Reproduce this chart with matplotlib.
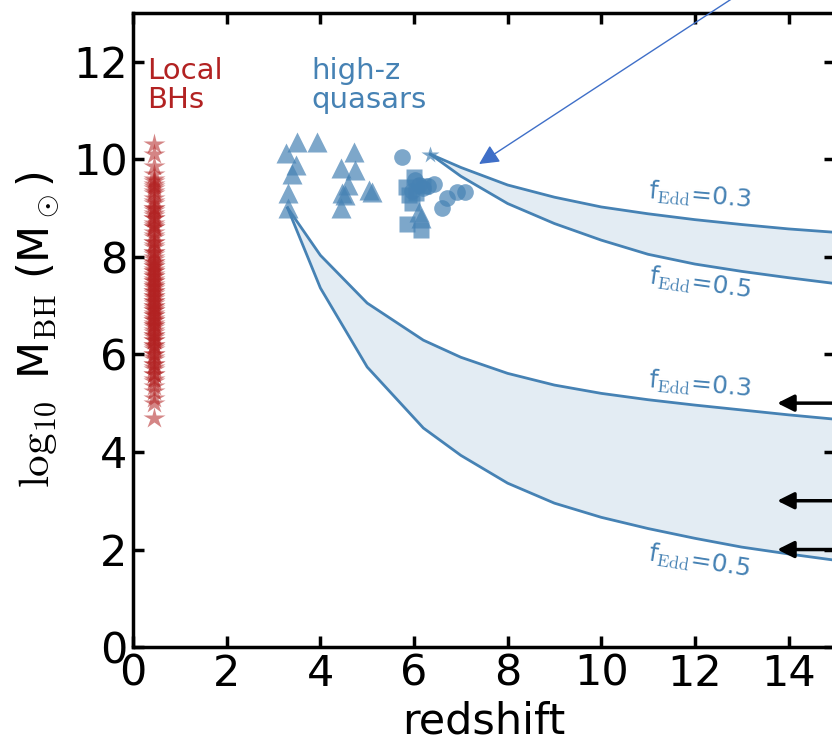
import matplotlib
matplotlib.use('Agg')
import matplotlib.pyplot as plt
import numpy as np

plt.rcParams['mathtext.fontset'] = 'cm'
plt.rcParams['mathtext.rm'] = 'serif'

# local black holes (all at z ~ 0.45)
local_z = 0.45
local_logm = [10.3, 10.1, 9.85, 9.7, 9.6, 9.55, 9.5, 9.45, 9.4, 9.35, 9.3, 9.2,
              9.15, 9.1, 9.0, 8.95, 8.9, 8.85, 8.8, 8.7, 8.65, 8.6, 8.5, 8.45,
              8.4, 8.3, 8.25, 8.2, 8.1, 8.05, 8.0, 7.95, 7.9, 7.85, 7.8, 7.75,
              7.7, 7.65, 7.6, 7.55, 7.5, 7.45, 7.4, 7.35, 7.3, 7.25, 7.2, 7.15,
              7.1, 7.05, 7.0, 6.95, 6.9, 6.85, 6.8, 6.75, 6.7, 6.65, 6.6, 6.55,
              6.5, 6.45, 6.4, 6.35, 6.3, 6.2, 6.15, 6.1, 6.0, 5.95, 5.9, 5.8,
              5.75, 5.7, 5.6, 5.5, 5.45, 5.35, 5.25, 5.1, 5.0, 4.7,
              7.0, 7.2, 6.9, 7.6, 6.6, 7.8, 8.3, 6.3, 7.4, 6.8, 8.6, 9.0, 5.8,
              6.4, 6.7, 7.1, 7.3, 7.5, 7.7, 7.9, 8.1, 6.2, 6.0, 5.6, 8.8]

# high-z quasars, by marker
tri_z = [3.5, 3.93, 3.27, 3.47, 3.4, 3.31, 3.31, 4.71, 4.43, 4.75, 4.59, 4.47,
         4.53, 4.45, 5.03, 5.11, 6.1, 6.15]
tri_m = [10.35, 10.35, 10.13, 9.88, 9.7, 9.3, 9.0, 10.15, 9.81, 9.77, 9.47, 9.3,
         9.26, 9.0, 9.36, 9.33, 8.92, 8.8]
circ_z = [5.75, 6.92, 7.1, 6.71, 6.6, 6.42, 6.1, 6.03, 6.2, 6.3, 5.95]
circ_m = [10.05, 9.33, 9.33, 9.2, 9.0, 9.5, 9.47, 9.57, 9.4, 9.45, 9.35]
sq_z = [5.85, 6.15, 6.0, 5.82, 5.89, 5.96, 6.05, 6.2]
sq_m = [8.68, 8.55, 9.64, 9.43, 9.26, 9.1, 9.3, 9.45]
star_z = [6.35]
star_m = [10.08]

# growth tracks
up_z = [6.35, 7, 8, 9, 10, 11, 12, 13, 14, 15]
up_f03 = [10.1, 9.83, 9.47, 9.22, 9.02, 8.88, 8.76, 8.66, 8.57, 8.5]
up_f05 = [10.1, 9.65, 9.09, 8.68, 8.34, 8.05, 7.85, 7.7, 7.57, 7.45]
lo_z = [3.3, 4, 5, 6.2, 7, 8, 9, 10, 11, 12, 13, 14, 15]
lo_f03 = [9.0, 8.03, 7.05, 6.29, 5.94, 5.61, 5.37, 5.2, 5.07, 4.96, 4.86, 4.76, 4.67]
lo_f05 = [9.0, 7.36, 5.74, 4.49, 3.93, 3.36, 2.95, 2.66, 2.43, 2.23, 2.05, 1.91, 1.78]

# arrows at right edge
arrow_m = [5, 3, 2]

red = '#B22222'
blue = '#4682B4'

fig = plt.figure(figsize=(8.32, 7.49), dpi=100)
ax = fig.add_axes([0.160, 0.136, 0.844, 0.847])

ax.plot([local_z] * len(local_logm), local_logm, '*', color=red, alpha=0.55,
        ms=16, mec='none')

ax.plot(tri_z, tri_m, '^', color=blue, alpha=0.7, ms=14, mec='none')
ax.plot(circ_z, circ_m, 'o', color=blue, alpha=0.7, ms=12, mec='none')
ax.plot(sq_z, sq_m, 's', color=blue, alpha=0.7, ms=11, mec='none')
ax.plot(star_z, star_m, '*', color=blue, alpha=0.7, ms=13, mec='none')

for zz, a, b in [(up_z, up_f03, up_f05), (lo_z, lo_f03, lo_f05)]:
    ax.fill_between(zz, a, b, color=blue, alpha=0.15, lw=0)
    ax.plot(zz, a, color=blue, lw=2)
    ax.plot(zz, b, color=blue, lw=2)

lab = r'f$_{\rm Edd}$=%s'
kw = dict(color=blue, fontsize=18, ha='center', va='center')
ax.text(12.1, 9.25, lab % '0.3', rotation=-5, **kw)
ax.text(12.1, 7.45, lab % '0.5', rotation=-8, **kw)
ax.text(12.1, 5.37, lab % '0.3', rotation=-5, **kw)
ax.text(12.1, 1.75, lab % '0.5', rotation=-9, **kw)

ax.text(0.3, 12.1, 'Local\nBHs', color=red, fontsize=21, va='top', ha='left', linespacing=1.08)
ax.text(3.8, 12.1, 'high-z\nquasars', color=blue, fontsize=21, va='top', ha='left', linespacing=1.08)

for m in arrow_m:
    ax.annotate('', xy=(13.7, m), xytext=(16.5, m), annotation_clip=False,
                arrowprops=dict(arrowstyle='-|>', color='k', lw=2.5, mutation_scale=25))

ax.annotate('', xy=(7.39, 9.9), xytext=(16, 15.3), annotation_clip=False,
            arrowprops=dict(arrowstyle='-|>', color='#3F6FC8', lw=1, mutation_scale=30,
                            shrinkA=0, shrinkB=0))

ax.set_xlim(0, 15)
ax.set_ylim(0, 13)
ax.set_xticks(range(0, 16, 2))
ax.set_yticks(range(0, 13, 2))
ax.tick_params(direction='in', length=8, width=2.5, labelsize=31, top=True, right=True, pad=4)
for s in ax.spines.values():
    s.set_linewidth(2.5)

ax.set_xlabel('redshift', fontsize=31, labelpad=4)
ax.set_ylabel(r'$\log_{10}$ M$_{\rm BH}$ (M$_\odot$)', fontsize=31, labelpad=8)

plt.savefig('out.png', dpi=100)
